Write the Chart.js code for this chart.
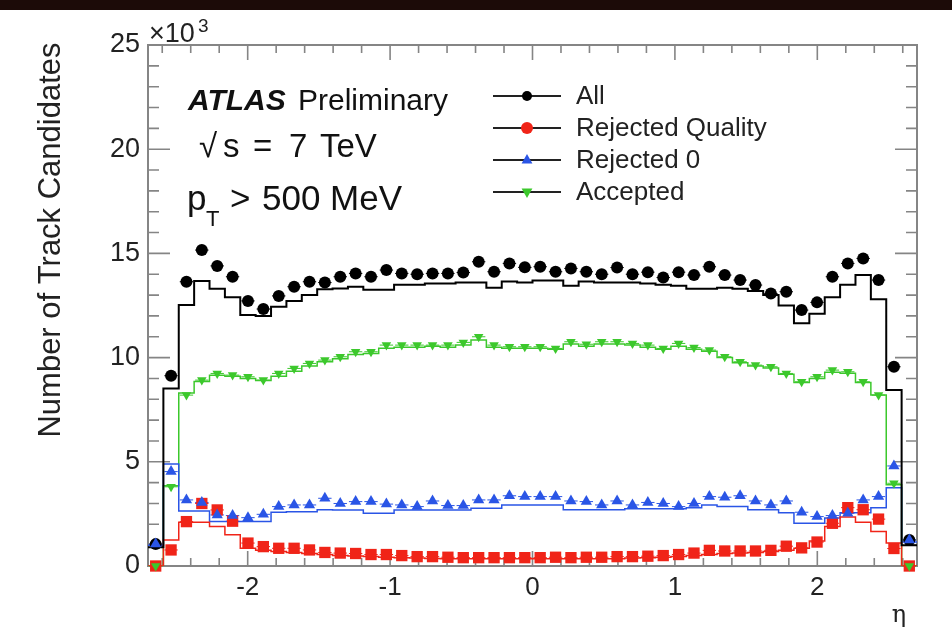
<!DOCTYPE html>
<html>
<head>
<meta charset="utf-8">
<script src="https://cdn.jsdelivr.net/npm/chart.js@4"></script>
<style>
  html, body { margin: 0; padding: 0; background: #fff; }
  #wrap { width: 952px; height: 629px; }
</style>
</head>
<body>
<div id="wrap"><canvas id="etaChart" width="952" height="629"></canvas></div>
<script>
// eta binning (50 bins between -2.7 and 2.7)
const etaMin = -2.7;
const etaMax = 2.7;
const nBins = 50;

const xTicks = [-2, -1, 0, 1, 2];
const yTicks = [0, 5, 10, 15, 20, 25];
const seriesNames = ['All', 'Rejected Quality', 'Rejected 0', 'Accepted'];

// data points (x10^3 track candidates per bin)
const allData = [1.05, 9.13, 13.64, 15.16, 14.4, 13.88, 12.72, 12.33, 12.96, 13.4,
  13.64, 13.6, 13.88, 14.04, 13.88, 14.2, 14.04, 14.0, 14.04, 14.04,
  14.08, 14.6, 14.12, 14.52, 14.33, 14.36, 14.12, 14.28, 14.12, 14.0,
  14.32, 14.0, 14.1, 13.84, 14.1, 13.96, 14.36, 13.96, 13.72, 13.48,
  13.08, 13.16, 12.28, 12.65, 13.88, 14.52, 14.76, 13.72, 9.56, 1.25];
const rejQualData = [0, 0.77, 2.13, 3.0, 2.69, 2.15, 1.1, 0.93, 0.85, 0.85,
  0.77, 0.65, 0.62, 0.6, 0.55, 0.55, 0.5, 0.45, 0.45, 0.42,
  0.4, 0.4, 0.4, 0.4, 0.4, 0.4, 0.42, 0.4, 0.42, 0.42,
  0.45, 0.45, 0.47, 0.5, 0.55, 0.62, 0.75, 0.72, 0.72, 0.72,
  0.75, 0.95, 0.87, 1.15, 2.05, 2.8, 2.7, 2.25, 0.84, 0];
const rej0Data = [1.05, 4.53, 3.17, 3.05, 2.45, 2.42, 2.32, 2.48, 2.85, 2.93,
  2.93, 3.25, 3.0, 3.09, 3.09, 2.97, 2.93, 2.85, 3.12, 2.9,
  2.9, 3.17, 3.17, 3.37, 3.33, 3.33, 3.33, 3.12, 3.09, 2.93,
  3.12, 2.93, 3.05, 3.0, 2.85, 3.0, 3.33, 3.3, 3.37, 3.12,
  2.93, 3.12, 2.58, 2.37, 2.42, 2.53, 3.17, 3.33, 4.8, 1.25];
const acceptedData = [0, 3.8, 8.2, 8.92, 9.24, 9.16, 9.08, 8.92, 9.24, 9.48,
  9.72, 9.88, 10.04, 10.28, 10.28, 10.6, 10.6, 10.6, 10.6, 10.6,
  10.73, 11.0, 10.6, 10.52, 10.52, 10.52, 10.44, 10.76, 10.64, 10.76,
  10.76, 10.68, 10.6, 10.44, 10.68, 10.48, 10.36, 10.04, 9.8, 9.64,
  9.56, 9.24, 8.84, 9.08, 9.4, 9.32, 8.84, 8.2, 3.97, 0];

// simulation histograms
const allMC = [0.9, 8.52, 12.52, 13.68, 13.3, 12.9, 12.04, 12.0, 12.44, 12.72,
  13.0, 13.28, 13.32, 13.4, 13.25, 13.25, 13.5, 13.5, 13.55, 13.55,
  13.6, 13.6, 13.35, 13.65, 13.6, 13.7, 13.7, 13.45, 13.65, 13.6,
  13.6, 13.6, 13.55, 13.5, 13.45, 13.3, 13.3, 13.35, 13.3, 13.2,
  13.0, 12.5, 11.65, 12.1, 12.9, 13.5, 13.96, 12.8, 8.45, 1.0];
const rejQualMC = [0, 1.25, 2.1, 2.1, 1.9, 1.5, 0.85, 0.75, 0.7, 0.65,
  0.6, 0.55, 0.5, 0.48, 0.45, 0.42, 0.4, 0.38, 0.36, 0.35,
  0.35, 0.35, 0.35, 0.35, 0.35, 0.35, 0.35, 0.35, 0.35, 0.35,
  0.35, 0.38, 0.4, 0.42, 0.45, 0.5, 0.55, 0.6, 0.62, 0.65,
  0.7, 0.75, 0.85, 1.2, 1.9, 2.35, 2.1, 1.65, 1.1, 0];
const rej0MC = [1.0, 4.9, 2.64, 2.64, 2.13, 2.13, 2.13, 2.13, 2.58, 2.6,
  2.6, 2.7, 2.69, 2.69, 2.53, 2.53, 2.69, 2.69, 2.69, 2.69,
  2.69, 2.77, 2.77, 2.93, 2.93, 2.93, 2.93, 2.7, 2.7, 2.7,
  2.7, 2.75, 2.75, 2.75, 2.75, 2.8, 2.93, 2.85, 2.85, 2.7,
  2.7, 2.55, 2.05, 2.05, 2.3, 2.55, 2.55, 2.8, 3.75, 1.15];
const acceptedMC = [0, 3.85, 8.3, 8.85, 9.15, 9.1, 9.0, 8.9, 9.1, 9.35,
  9.6, 9.8, 9.95, 10.15, 10.2, 10.45, 10.5, 10.5, 10.55, 10.5,
  10.6, 10.85, 10.5, 10.45, 10.45, 10.45, 10.4, 10.65, 10.55, 10.65,
  10.65, 10.6, 10.5, 10.4, 10.55, 10.4, 10.3, 10.0, 9.75, 9.6,
  9.5, 9.2, 8.8, 9.0, 9.3, 9.25, 8.8, 8.2, 3.9, 0];

const FONT = "'Liberation Sans', Arial, Helvetica, sans-serif";
const colBlack = '#000000';
const colRed = '#f02418';
const colBlue = '#2a55e6';
const colGreen = '#3cc82c';

const binWidth = (etaMax - etaMin) / nBins;
const edges = [];
for (let k = 0; k <= nBins; k++) edges.push(etaMin + k * binWidth);

function asPoints(values) {
  return values.map((v, i) => ({ x: edges[i] + binWidth / 2, y: v }));
}
function asSteps(values) {
  const pts = values.map((v, i) => ({ x: edges[i], y: v }));
  pts.push({ x: edges[nBins], y: values[nBins - 1] });
  return pts;
}

function markerDataset(label, values, color, style, radius, rotation, order) {
  return {
    label: label,
    data: asPoints(values),
    showLine: false,
    pointStyle: style,
    pointRadius: radius,
    pointRotation: rotation,
    pointBackgroundColor: color,
    pointBorderColor: color,
    pointBorderWidth: 0,
    order: order,
    clip: 10,
    xErrBar: true
  };
}
function stepDataset(values, color, width) {
  return {
    label: '_mc',
    data: asSteps(values),
    stepped: 'before',
    borderColor: color,
    borderWidth: width,
    pointRadius: 0,
    fill: false,
    order: 20
  };
}

function drawMarker(ctx, style, x, y, r, rot, color) {
  ctx.save();
  ctx.fillStyle = color;
  ctx.beginPath();
  if (style === 'circle') {
    ctx.arc(x, y, r, 0, Math.PI * 2);
  } else if (style === 'rect') {
    ctx.rect(x - r * 0.75, y - r * 0.75, r * 1.5, r * 1.5);
  } else {
    const s = rot ? -1 : 1;
    ctx.moveTo(x, y - s * r);
    ctx.lineTo(x + r * 0.9, y + s * r * 0.6);
    ctx.lineTo(x - r * 0.9, y + s * r * 0.6);
    ctx.closePath();
  }
  ctx.fill();
  ctx.restore();
}

const legendStyles = [
  { style: 'circle', r: 5, rot: 0, color: colBlack },
  { style: 'circle', r: 6, rot: 0, color: colRed },
  { style: 'triangle', r: 6, rot: 0, color: colBlue },
  { style: 'triangle', r: 6, rot: 180, color: colGreen }
];

const atlasDecor = {
  id: 'atlasDecor',
  beforeDraw(chart) {
    const ctx = chart.ctx;
    ctx.save();
    ctx.fillStyle = '#1c0b08';
    ctx.fillRect(0, 0, chart.width, 10);
    ctx.restore();
  },
  beforeDatasetsDraw(chart) {
    const ctx = chart.ctx;
    const { left, right, top, bottom } = chart.chartArea;
    const xs = chart.scales.x, ys = chart.scales.y;
    ctx.save();
    ctx.strokeStyle = '#858585';
    ctx.lineWidth = 2;
    ctx.strokeRect(left, top, right - left, bottom - top);
    ctx.lineWidth = 1.6;
    ctx.beginPath();
    for (let v = 0; v <= 25; v++) {
      const y = ys.getPixelForValue(v);
      const len = v % 5 === 0 ? 22 : 11;
      ctx.moveTo(left, y); ctx.lineTo(left + len, y);
      ctx.moveTo(right, y); ctx.lineTo(right - len, y);
    }
    for (let k = -13; k <= 13; k++) {
      const x = xs.getPixelForValue(k / 5);
      const len = k % 5 === 0 ? 15 : 8;
      ctx.moveTo(x, bottom); ctx.lineTo(x, bottom - len);
      ctx.moveTo(x, top); ctx.lineTo(x, top + len);
    }
    ctx.stroke();

    // horizontal (bin width) error bars of the data points
    ctx.lineWidth = 1;
    chart.data.datasets.forEach((ds) => {
      if (!ds.xErrBar) return;
      ctx.strokeStyle = ds.pointBackgroundColor;
      ctx.beginPath();
      ds.data.forEach((p) => {
        const y = ys.getPixelForValue(p.y);
        ctx.moveTo(xs.getPixelForValue(p.x - binWidth / 2) + 1, y);
        ctx.lineTo(xs.getPixelForValue(p.x + binWidth / 2) - 1, y);
      });
      ctx.stroke();
    });
    ctx.restore();
  },
  afterDraw(chart) {
    const ctx = chart.ctx;
    ctx.save();
    ctx.fillStyle = '#222';
    ctx.textBaseline = 'alphabetic';

    // y axis title
    ctx.save();
    ctx.translate(60, 240);
    ctx.rotate(-Math.PI / 2);
    ctx.textAlign = 'center';
    ctx.font = '31px ' + FONT;
    ctx.fillText('Number of Track Candidates', 0, 0);
    ctx.restore();

    // exponent
    ctx.font = '27px ' + FONT;
    ctx.fillText('\u00d710', 149, 42);
    ctx.font = '19px ' + FONT;
    ctx.fillText('3', 198, 32);

    // eta label
    ctx.font = '24px "DejaVu Serif", serif';
    ctx.textAlign = 'center';
    ctx.fillText('\u03b7', 899, 622);
    ctx.textAlign = 'left';

    // ATLAS label
    ctx.fillStyle = '#111';
    ctx.font = 'italic bold 30px ' + FONT;
    ctx.fillText('ATLAS', 188, 110);
    ctx.font = '30px ' + FONT;
    ctx.fillText('Preliminary', 298, 110);

    ctx.font = '33px ' + FONT;
    ctx.fillText('\u221a', 199, 157);
    ctx.fillText('s', 223, 157);
    ctx.fillText('=', 253, 157);
    ctx.fillText('7', 289, 157);
    ctx.fillText('TeV', 320, 157);

    ctx.font = '35px ' + FONT;
    ctx.fillText('p', 187, 210);
    ctx.font = '22px ' + FONT;
    ctx.fillText('T', 206, 226);
    ctx.font = '35px ' + FONT;
    ctx.fillText('>', 230, 210);
    ctx.fillText('500 MeV', 262, 210);

    // legend
    const rowY = [96, 128, 160, 192];
    seriesNames.forEach((name, i) => {
      const y = rowY[i];
      ctx.strokeStyle = '#222';
      ctx.lineWidth = 2;
      ctx.beginPath();
      ctx.moveTo(493, y); ctx.lineTo(561, y);
      ctx.stroke();
      const m = legendStyles[i];
      drawMarker(ctx, m.style, 527, y, m.r, m.rot, m.color);
      ctx.fillStyle = '#222';
      ctx.font = '26px ' + FONT;
      ctx.textBaseline = 'middle';
      ctx.fillText(name, 576, y + 1);
    });
    ctx.restore();
  }
};

Chart.defaults.font.family = FONT;

new Chart(document.getElementById('etaChart'), {
  type: 'line',
  data: {
    datasets: [
      stepDataset(allMC, colBlack, 2),
      stepDataset(rejQualMC, colRed, 1.5),
      stepDataset(rej0MC, colBlue, 1.5),
      stepDataset(acceptedMC, colGreen, 1.5),
      markerDataset(seriesNames[0], allData, colBlack, 'circle', 6, 0, 5),
      markerDataset(seriesNames[1], rejQualData, colRed, 'rect', 8, 0, 4),
      markerDataset(seriesNames[3], acceptedData, colGreen, 'triangle', 5.5, 180, 3),
      markerDataset(seriesNames[2], rej0Data, colBlue, 'triangle', 6.5, 0, 2)
    ]
  },
  options: {
    responsive: false,
    animation: false,
    devicePixelRatio: 1,
    layout: { padding: { top: 45, right: 35, left: 0, bottom: 0 } },
    plugins: { legend: { display: false }, tooltip: { enabled: false } },
    scales: {
      x: {
        type: 'linear',
        min: etaMin,
        max: etaMax,
        afterBuildTicks: (scale) => { scale.ticks = xTicks.map(v => ({ value: v })); },
        afterFit: (scale) => { scale.height = 63; },
        grid: { display: false, drawTicks: false },
        border: { display: false },
        ticks: { color: '#222', font: { size: 26 }, padding: 6, maxRotation: 0 }
      },
      y: {
        type: 'linear',
        min: yTicks[0],
        max: yTicks[yTicks.length - 1],
        afterBuildTicks: (scale) => { scale.ticks = yTicks.map(v => ({ value: v })); },
        afterFit: (scale) => { scale.width = 148; },
        grid: { display: false, drawTicks: false },
        border: { display: false },
        ticks: { color: '#222', font: { size: 27 }, padding: 8 }
      }
    }
  },
  plugins: [atlasDecor]
});
</script>
</body>
</html>
